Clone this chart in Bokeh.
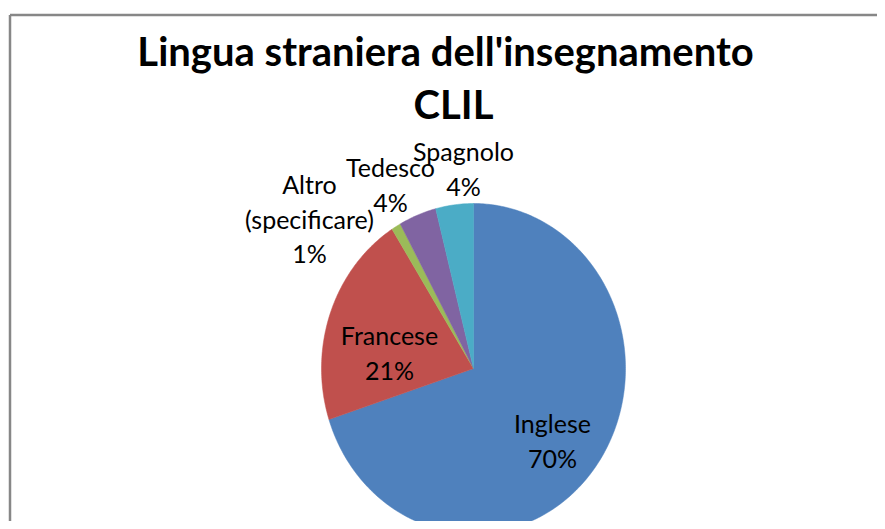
import numpy as np
from bokeh.plotting import figure
from bokeh.models import Range1d, ColumnDataSource
from bokeh.core.properties import value
from bokeh.embed import file_html
from bokeh.resources import INLINE

# ---- data ----
categories = ["Inglese", "Francese", "Altro\n(specificare)", "Tedesco", "Spagnolo"]
values = [70, 21, 1, 4, 4]
colors = ["#4F81BD", "#C0504D", "#9BBB59", "#8064A2", "#4BACC6"]
title_lines = ["Lingua straniera dell'insegnamento", "CLIL"]

# ---- layout (pixel space of the picture, y downward) ----
cx, cy, rx, ry = 473, 368, 152, 165
label_pos = [(552, 440), (389, 352), (309, 218), (390, 184), (463, 168)]
FONT = "Lato"

p = figure(width=877, height=521, x_range=Range1d(0, 877), y_range=Range1d(521, 0),
           output_backend="svg", toolbar_location=None, min_border=0)
p.axis.visible = False
p.grid.visible = False
p.outline_line_color = None
p.background_fill_color = "white"

# pie slices as elliptical wedges, clockwise from 12 o'clock
vals = np.array(values, dtype=float)
fr = vals / vals.sum()
ends = np.cumsum(fr) * 2 * np.pi
starts = ends - fr * 2 * np.pi
xs, ys = [], []
for a0, a1 in zip(starts, ends):
    t = np.linspace(a0, a1, max(3, int((a1 - a0) * 80)))
    xs.append([cx] + list(cx + rx * np.sin(t)) + [cx])
    ys.append([cy] + list(cy - ry * np.cos(t)) + [cy])
p.patches(xs, ys, fill_color=colors, line_color=colors, line_width=0.5)

# data labels
pct = [f"{v:.0f}%" for v in values]
lab_src = ColumnDataSource(dict(
    x=[lp[0] for lp in label_pos], y=[lp[1] for lp in label_pos],
    t=[f"{c}\n{q}" for c, q in zip(categories, pct)]))
p.text("x", "y", text="t", source=lab_src, text_font=value(FONT), text_font_size="25px",
       text_color="#000000", text_align="center", text_baseline="middle", text_line_height=1.15)

# title
p.text([445, 453], [50, 103], text=title_lines, text_font=value(FONT), text_font_size="40px",
       text_font_style="bold", text_color="#000000", text_align="center", text_baseline="alphabetic")

# chart-area border (left and top visible)
p.line([9.5, 9.5], [521, 14.5], line_color="#878787", line_width=2.5)
p.line([9.5, 877], [14.5, 14.5], line_color="#878787", line_width=2.5)

open("out.html", "w").write(file_html(p, INLINE))
